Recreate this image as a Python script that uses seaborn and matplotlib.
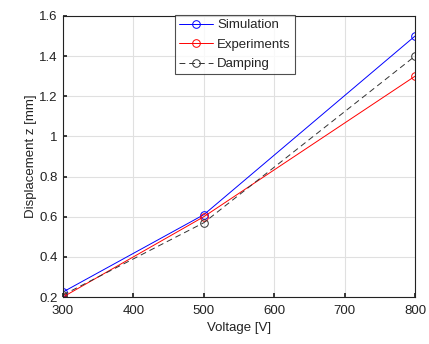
import matplotlib
matplotlib.use("Agg")
import matplotlib.pyplot as plt
import seaborn as sns
import pandas as pd

voltage = [300, 500, 800]
simulation = [0.225, 0.61, 1.50]
experiments = [0.20, 0.60, 1.30]
damping = [0.21, 0.57, 1.40]

sns.set_theme(style="ticks")
plt.rcParams['font.family'] = ['Liberation Sans', 'DejaVu Sans']

df = pd.concat([
    pd.DataFrame({"Voltage": voltage, "Disp": simulation, "Series": "Simulation"}),
    pd.DataFrame({"Voltage": voltage, "Disp": experiments, "Series": "Experiments"}),
    pd.DataFrame({"Voltage": voltage, "Disp": damping, "Series": "Damping"}),
])

fig = plt.figure(figsize=(4.29, 3.44), dpi=100)
ax = fig.add_axes([63/429, 1-297/344, (415-63)/429, (297-16)/344])

styles = {"Simulation": ("#0000ff", "-"), "Experiments": ("#ff0000", "-"), "Damping": ("#333333", (0, (6, 4)))}
for name, (c, ls) in styles.items():
    sub = df[df.Series == name]
    sns.lineplot(data=sub, x="Voltage", y="Disp", ax=ax, color=c, lw=0.7,
                 linestyle=ls, marker="o", markersize=5.5, markerfacecolor="none",
                 markeredgecolor=c, markeredgewidth=0.7, label=name)

ax.set_xlim(300, 800)
ax.set_ylim(0.2, 1.6)
ax.set_xticks([300, 400, 500, 600, 700, 800])
ax.set_yticks([0.2, 0.4, 0.6, 0.8, 1.0, 1.2, 1.4, 1.6])
ax.set_yticklabels(["0.2", "0.4", "0.6", "0.8", "1", "1.2", "1.4", "1.6"])
ax.grid(True, color="#e0e0e0", lw=0.8)
ax.tick_params(direction="in", labelsize=9.5, length=3, color="#222222", labelcolor="#222222", pad=6)
ax.tick_params(axis="y", pad=4)
for s in ax.spines.values():
    s.set_color("#222222")
    s.set_linewidth(0.8)
ax.set_xlabel("Voltage [V]", fontsize=9.5, color="#222222", labelpad=3)
ax.set_ylabel("Displacement z [mm]", fontsize=9.5, color="#222222", labelpad=1.5)

leg = ax.legend(loc="upper left", fontsize=9.5, frameon=True,
                fancybox=False, edgecolor="#222222", borderpad=0.3, labelspacing=0.55,
                handlelength=2.6, handletextpad=0.3, borderaxespad=0,
                bbox_to_anchor=(175/429, 1-15/344), bbox_transform=fig.transFigure)
leg.get_frame().set_linewidth(0.8)

fig.savefig("out.png", dpi=100)
